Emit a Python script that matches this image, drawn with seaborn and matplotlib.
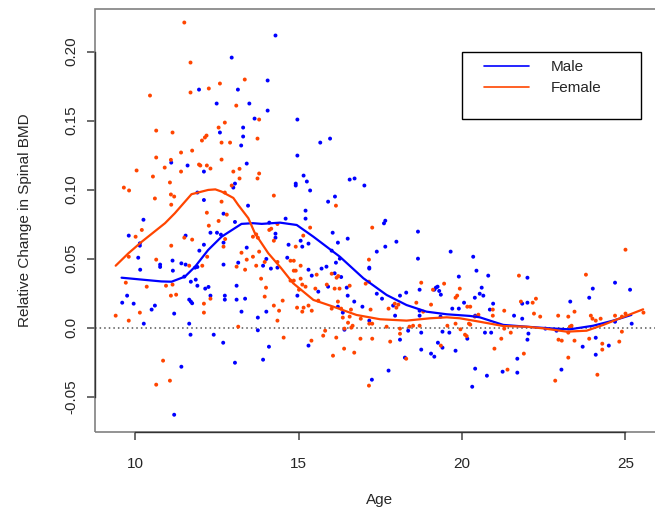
import numpy as np
import pandas as pd
import matplotlib
matplotlib.use("Agg")
import matplotlib.pyplot as plt
import seaborn as sns
from matplotlib.patches import Rectangle
from matplotlib.lines import Line2D

# points (age, relative change in spinal BMD)
male_age = [
    14.29, 12.95, 14.05, 11.95, 13.14, 12.49, 13.49, 14.05, 13.65, 13.30,
    12.59, 13.30, 13.24, 13.41, 11.10, 11.60, 12.10, 13.05, 13.00, 11.90,
    10.25, 9.80, 10.14, 10.14, 11.54, 12.70, 13.05, 13.45, 12.10, 12.30,
    12.50, 12.62, 12.70, 12.10, 11.96, 10.09, 11.14, 11.41, 11.54, 10.76,
    10.76, 11.15, 10.15, 11.83, 11.90, 12.70, 13.15, 13.41, 11.50, 11.70,
    11.85, 11.90, 12.14, 12.24, 12.30, 12.74, 12.74, 13.10, 13.10, 13.36,
    13.25, 13.75, 14.01, 14.01, 13.91, 14.15, 14.35, 11.65, 11.70, 11.74,
    10.60, 10.50, 9.95, 9.75, 9.60, 11.19, 10.26, 11.65, 11.69, 12.40,
    12.69, 13.75, 14.09, 13.91, 13.05, 11.41, 11.19, 14.29, 14.29, 14.10,
    14.96, 15.66, 15.96, 14.96, 15.15, 14.91, 14.91, 15.25, 15.35, 16.56,
    16.71, 17.01, 16.11, 14.60, 15.21, 15.21, 15.90, 16.04, 16.20, 16.50,
    15.06, 14.69, 15.11, 15.30, 14.65, 16.01, 16.14, 16.26, 15.85, 15.70,
    15.30, 15.40, 16.10, 16.30, 15.90, 16.47, 15.60, 14.96, 16.50, 16.70,
    16.95, 16.20, 16.35, 16.40, 17.16, 15.30, 17.24, 17.75, 17.39, 17.65,
    17.99, 17.61, 17.65, 17.16, 17.16, 17.39, 17.55, 17.95, 18.29, 18.10,
    17.89, 18.10, 18.35, 18.25, 18.65, 18.65, 18.70, 18.70, 18.70, 18.75,
    18.75, 19.05, 19.15, 19.15, 19.20, 19.25, 19.30, 19.35, 19.34, 19.40,
    19.61, 19.26, 19.40, 19.65, 19.70, 19.80, 19.90, 19.90, 20.34, 20.44,
    20.80, 20.60, 20.39, 20.54, 20.65, 20.06, 20.16, 20.95, 20.85, 20.40,
    20.70, 20.89, 21.59, 21.84, 21.84, 22.00, 22.00, 22.03, 22.00, 21.69,
    21.69, 21.24, 20.76, 20.40, 20.31, 22.55, 22.89, 23.31, 23.69, 23.89,
    24.00, 24.09, 24.09, 24.49, 24.68, 24.68, 25.14, 25.19, 23.04,
]
male_bmd = [
    0.2117, 0.1957, 0.1791, 0.1725, 0.1725, 0.1624, 0.1624, 0.1573, 0.1515, 0.1450,
    0.1414, 0.1385, 0.1320, 0.1189, 0.1196, 0.1175, 0.1131, 0.1044, 0.1015, 0.0979,
    0.0782, 0.0667, 0.0611, 0.0594, 0.0667, 0.0826, 0.0766, 0.0884, 0.0925, 0.0688,
    0.0688, 0.0674, 0.0616, 0.0601, 0.0558, 0.0507, 0.0486, 0.0466, 0.0457, 0.0457,
    0.0440, 0.0413, 0.0420, 0.0435, 0.0440, 0.0457, 0.0471, 0.0580, 0.0370, 0.0333,
    0.0348, 0.0304, 0.0283, 0.0295, 0.0232, 0.0232, 0.0203, 0.0304, 0.0203, 0.0210,
    0.0116, 0.0073, 0.0116, 0.0498, 0.0449, 0.0428, 0.0435, 0.0203, 0.0189, 0.0177,
    0.0160, 0.0131, 0.0174, 0.0232, 0.0181, 0.0102, 0.0029, 0.0029, -0.0051, -0.0051,
    -0.0109, -0.0019, -0.0138, -0.0232, -0.0254, -0.0283, -0.0631, 0.0681, 0.0652, 0.0761,
    0.1508, 0.1341, 0.1370, 0.1247, 0.1102, 0.1044, 0.1030, 0.1059, 0.0994, 0.1073,
    0.1081, 0.1030, 0.0950, 0.0790, 0.0848, 0.0790, 0.0913, 0.0688, 0.0616, 0.0645,
    0.0630, 0.0601, 0.0587, 0.0609, 0.0507, 0.0558, 0.0471, 0.0500, 0.0442, 0.0428,
    0.0420, 0.0377, 0.0394, 0.0367, 0.0297, 0.0290, 0.0261, 0.0232, 0.0232, 0.0189,
    0.0152, 0.0152, 0.0109, -0.0015, 0.0051, -0.0130, -0.0377, -0.0311, 0.0551, 0.0587,
    0.0623, 0.0756, 0.0775, 0.0435, 0.0428, 0.0246, 0.0210, 0.0087, 0.0254, 0.0232,
    0.0160, -0.0087, -0.0022, -0.0217, 0.0696, 0.0500, 0.0275, 0.0123, 0.0087, -0.0036,
    -0.0159, -0.0188, -0.0210, 0.0275, 0.0290, 0.0297, 0.0266, 0.0239, 0.0080, -0.0029,
    -0.0036, -0.0109, -0.0145, 0.0551, 0.0138, -0.0167, 0.0370, 0.0138, 0.0514, 0.0413,
    0.0377, 0.0290, 0.0217, 0.0246, 0.0232, 0.0181, -0.0080, 0.0174, 0.0131, 0.0087,
    -0.0036, -0.0036, 0.0087, 0.0065, 0.0174, 0.0181, 0.0362, -0.0043, -0.0087, -0.0225,
    -0.0326, -0.0319, -0.0348, -0.0297, -0.0428, -0.0007, -0.0022, 0.0189, -0.0138, 0.0217,
    0.0283, -0.0073, -0.0196, -0.0130, 0.0326, 0.0043, 0.0275, 0.0029, -0.0304,
]

female_age = [
    11.50, 11.69, 11.69, 10.45, 12.25, 12.59, 13.35, 13.09, 13.79, 12.74,
    12.55, 10.64, 11.14, 12.18, 12.13, 12.04, 12.64, 12.90, 13.74, 11.74,
    10.64, 11.40, 11.09, 12.64, 10.90, 11.95, 11.99, 12.19, 12.30, 10.04,
    10.54, 11.40, 13.00, 13.19, 13.79, 13.74, 13.19, 11.06, 12.95, 9.65,
    9.81, 11.09, 11.19, 10.60, 12.74, 14.24, 11.10, 12.64, 12.19, 12.80,
    12.55, 12.25, 10.20, 10.01, 11.50, 11.74, 12.75, 12.70, 11.10, 9.80,
    10.64, 12.20, 13.25, 13.79, 13.41, 13.60, 13.70, 13.36, 13.10, 12.05,
    11.65, 10.94, 11.14, 10.35, 9.71, 11.09, 11.25, 13.85, 14.00, 13.96,
    12.30, 12.10, 12.10, 10.14, 9.80, 9.40, 13.15, 14.24, 14.40, 14.35,
    10.85, 10.64, 11.06, 13.96, 14.35, 14.35, 14.10, 14.24, 13.60, 13.70,
    13.75, 14.16, 16.14, 15.35, 15.14, 14.91, 14.75, 14.85, 15.06, 14.85,
    14.91, 14.75, 14.85, 15.06, 15.01, 15.11, 15.21, 15.51, 15.55, 16.01,
    16.16, 16.21, 15.86, 16.10, 16.25, 16.56, 14.51, 14.95, 15.11, 15.15,
    15.30, 15.40, 15.60, 16.01, 16.20, 16.30, 16.60, 16.35, 16.56, 16.51,
    16.65, 16.90, 17.20, 17.16, 17.25, 16.40, 16.61, 15.81, 15.75, 16.15,
    14.54, 15.39, 16.39, 16.05, 16.70, 16.89, 17.25, 17.05, 17.15, 17.15,
    17.25, 17.69, 17.75, 17.94, 17.99, 18.05, 18.10, 18.10, 18.39, 18.50,
    18.60, 18.70, 18.75, 18.81, 19.05, 19.11, 18.29, 17.80, 17.15, 19.45,
    19.80, 19.85, 19.55, 19.80, 19.35, 19.93, 20.16, 20.25, 19.95, 20.09,
    20.14, 20.21, 20.25, 20.50, 20.39, 20.94, 20.94, 20.99, 21.29, 21.29,
    21.49, 21.20, 21.39, 21.74, 21.80, 22.16, 22.26, 22.20, 22.39, 21.89,
    22.85, 22.94, 22.95, 23.05, 23.25, 23.30, 23.35, 23.25, 23.25, 23.44,
    23.44, 23.79, 23.89, 23.94, 23.99, 24.09, 24.24, 24.14, 24.29, 24.29,
    24.68, 24.81, 24.89, 24.89, 25.00, 25.00, 25.55,
]
female_bmd = [
    0.2211, 0.1921, 0.1704, 0.1682, 0.1733, 0.1769, 0.1798, 0.1609, 0.1508, 0.1486,
    0.1450, 0.1428, 0.1414, 0.1392, 0.1378, 0.1356, 0.1341, 0.1341, 0.1370, 0.1283,
    0.1233, 0.1269, 0.1216, 0.1218, 0.1160, 0.1182, 0.1175, 0.1175, 0.1153, 0.1139,
    0.1095, 0.1131, 0.1131, 0.1151, 0.1117, 0.1081, 0.1081, 0.1052, 0.1030, 0.1015,
    0.0994, 0.0965, 0.0950, 0.0936, 0.0979, 0.0957, 0.0891, 0.0913, 0.0833, 0.0819,
    0.0773, 0.0739, 0.0708, 0.0659, 0.0652, 0.0638, 0.0642, 0.0587, 0.0594, 0.0514,
    0.0493, 0.0514, 0.0543, 0.0551, 0.0493, 0.0514, 0.0449, 0.0420, 0.0442, 0.0449,
    0.0449, 0.0304, 0.0312, 0.0297, 0.0326, 0.0232, 0.0239, 0.0355, 0.0290, 0.0225,
    0.0210, 0.0174, 0.0109, 0.0109, 0.0051, 0.0087, 0.0007, 0.0160, 0.0123, 0.0051,
    -0.0239, -0.0413, -0.0384, 0.0476, 0.0476, 0.0751, 0.0708, 0.0630, 0.0659, 0.0676,
    0.0652, 0.0717, 0.0884, 0.0725, 0.0667, 0.0587, 0.0485, 0.0485, 0.0449, 0.0413,
    0.0413, 0.0341, 0.0341, 0.0355, 0.0275, 0.0312, 0.0297, 0.0283, 0.0384, 0.0391,
    0.0362, 0.0374, 0.0312, 0.0283, 0.0283, 0.0304, 0.0196, 0.0145, 0.0116, 0.0145,
    0.0160, 0.0123, 0.0196, 0.0138, 0.0189, 0.0138, 0.0131, 0.0073, 0.0080, 0.0036,
    0.0014, 0.0065, 0.0131, 0.0029, 0.0029, -0.0007, 0.0000, -0.0022, -0.0058, -0.0072,
    -0.0072, -0.0094, -0.0152, -0.0203, -0.0181, -0.0080, -0.0080, 0.0319, 0.0333, 0.0493,
    0.0725, 0.0007, 0.0138, 0.0174, 0.0145, 0.0167, -0.0007, -0.0044, 0.0007, 0.0014,
    0.0181, 0.0014, 0.0326, 0.0116, 0.0167, 0.0275, -0.0225, -0.0101, -0.0420, 0.0319,
    0.0217, 0.0232, 0.0014, 0.0029, -0.0130, 0.0283, 0.0152, 0.0152, -0.0012, -0.0051,
    -0.0061, 0.0029, 0.0022, 0.0094, 0.0080, 0.0131, 0.0087, -0.0152, 0.0123, -0.0007,
    -0.0036, -0.0080, -0.0304, 0.0377, 0.0189, 0.0181, 0.0210, 0.0102, 0.0080, -0.0188,
    -0.0384, 0.0087, -0.0087, -0.0094, 0.0080, 0.0007, 0.0014, -0.0217, -0.0036, 0.0116,
    -0.0094, 0.0384, -0.0080, 0.0087, 0.0065, 0.0051, 0.0065, -0.0341, -0.0116, -0.0159,
    0.0087, -0.0101, -0.0029, 0.0080, 0.0102, 0.0565, 0.0109,
]

# smoothing-spline fits
male_fit_age = [9.58, 10.30, 10.80, 11.11, 11.52, 11.83, 12.23, 12.64, 13.25, 13.60,
                13.87, 14.43, 14.94, 15.45, 16.26, 16.98, 17.69, 18.30, 18.91, 19.53,
                20.24, 20.54, 21.26, 21.97, 22.69, 23.30, 24.01, 24.62, 25.18]
male_fit_bmd = [0.0362, 0.0346, 0.0335, 0.0333, 0.0370, 0.0442, 0.0563, 0.0659, 0.0752, 0.0757,
                0.0752, 0.0761, 0.0744, 0.0659, 0.0514, 0.0358, 0.0237, 0.0164, 0.0116, 0.0097,
                0.0085, 0.0075, 0.0020, 0.0007, -0.0005, -0.0012, 0.0014, 0.0051, 0.0092]
female_fit_age = [9.40, 9.79, 10.20, 10.91, 11.21, 11.52, 11.72, 12.23, 12.45, 12.64,
                  13.00, 13.15, 13.46, 13.66, 14.07, 14.45, 14.83, 15.45, 16.06, 16.77,
                  17.49, 18.30, 19.02, 19.53, 19.93, 20.54, 21.26, 21.97, 22.48, 23.20,
                  23.81, 24.32, 24.83, 25.54]
female_fit_bmd = [0.0449, 0.0539, 0.0623, 0.0757, 0.0829, 0.0913, 0.0967, 0.0998, 0.1002, 0.0986,
                  0.0940, 0.0889, 0.0793, 0.0684, 0.0539, 0.0435, 0.0322, 0.0201, 0.0152, 0.0092,
                  0.0061, 0.0051, 0.0068, 0.0075, 0.0068, 0.0043, 0.0012, 0.0007, -0.0005, -0.0029,
                  -0.0022, 0.0020, 0.0068, 0.0133]

sexes = ["Male", "Female"]
colors = {"Male": "#0000FF", "Female": "#FF4500"}

pts = pd.concat([
    pd.DataFrame({"age": male_age, "spnbmd": male_bmd, "gender": "Male"}),
    pd.DataFrame({"age": female_age, "spnbmd": female_bmd, "gender": "Female"}),
])
fits = pd.concat([
    pd.DataFrame({"age": male_fit_age, "spnbmd": male_fit_bmd, "gender": "Male"}),
    pd.DataFrame({"age": female_fit_age, "spnbmd": female_fit_bmd, "gender": "Female"}),
])

sns.set_style("white")
plt.rcParams["font.family"] = ["Liberation Sans", "DejaVu Sans"]

fig = plt.figure(figsize=(6.55, 5.13), dpi=100)
ax = fig.add_axes([94.7 / 655, 1 - 432 / 513, 570 / 655, 423 / 513])

sns.scatterplot(data=pts, x="age", y="spnbmd", hue="gender", palette=colors,
                s=8, linewidth=0, legend=False, ax=ax, zorder=2)
ax.axhline(0, color="#555555", lw=1.1, ls=(0, (1, 2)), zorder=1)
sns.lineplot(data=fits, x="age", y="spnbmd", hue="gender", palette=colors,
             sort=False, estimator=None, lw=1.6, legend=False, ax=ax, zorder=3)

ax.set_xlim(8.758, 26.2)
ax.set_ylim(-0.0756, 0.2309)
ax.set_xticks([10, 15, 20, 25])
ax.set_xticklabels(["10", "15", "20", "25"])
yt = [-0.05, 0.0, 0.05, 0.10, 0.15, 0.20]
ax.set_yticks(yt)
ax.set_yticklabels(["-0.05", "0.0", "0.05", "0.10", "0.15", "0.20"],
                   rotation=90, va="center")
ax.tick_params(axis="both", which="major", direction="out", length=6, width=1.1,
               color="#444444", labelsize=11, bottom=True, left=True)
ax.tick_params(axis="x", pad=12)
ax.tick_params(axis="y", pad=6)
ax.set_xlabel("Age", fontsize=11, labelpad=16)
ax.set_ylabel("Relative Change in Spinal BMD", fontsize=11, labelpad=23)

# R-style frame: grey box plus dark axis lines between the outer ticks
for s in ["top", "right"]:
    ax.spines[s].set_visible(False)
ax.spines["left"].set_bounds(-0.05, 0.20)
ax.spines["bottom"].set_bounds(10, 25)
for s in ["left", "bottom"]:
    ax.spines[s].set_color("#333333")
    ax.spines[s].set_linewidth(1.0)
    ax.spines[s].set_zorder(5)
ax.add_patch(Rectangle((0, 0), 1, 1, transform=ax.transAxes, fill=False,
                       edgecolor="#808080", lw=1.2, clip_on=False, zorder=4))

# legend box
fig.patches.append(Rectangle((462 / 655, 1 - 119 / 513), 179 / 655, 67 / 513,
                             transform=fig.transFigure, fill=False,
                             edgecolor="black", lw=1.0))
handles = [Line2D([], [], color=colors[g], lw=1.2) for g in sexes]
ax.legend(handles, sexes, loc="upper left", bbox_to_anchor=(484 / 655, 1 - 60 / 513),
          bbox_transform=fig.transFigure, frameon=False, fontsize=11,
          borderpad=0, borderaxespad=0, handlelength=2.95, handletextpad=1.45,
          labelspacing=0.45)

fig.savefig("out.png", dpi=100)
